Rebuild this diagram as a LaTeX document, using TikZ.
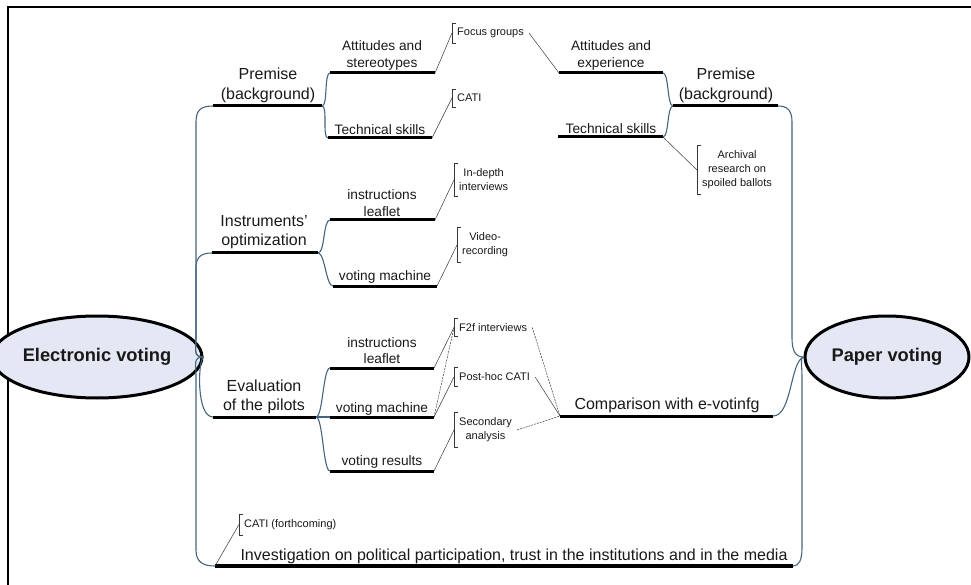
\documentclass[tikz,border=0pt]{standalone}
\usepackage{fontspec}
\setmainfont{Liberation Sans}
\usetikzlibrary{shapes.geometric}
\definecolor{txtc}{RGB}{25,25,25}
\definecolor{connc}{RGB}{70,100,125}
\definecolor{annc}{RGB}{55,55,55}
\definecolor{ovalfill}{RGB}{228,232,244}
\newcommand\annbracket[1]{\draw[bracketln] ([xshift=4pt]#1.north west) -- (#1.north west) -- (#1.south west) -- ([xshift=4pt]#1.south west);}
\begin{document}
\begin{tikzpicture}[x=1pt,y=-1pt,
  lblmain/.style={font=\fontsize{16}{19.3}\selectfont, align=center, inner sep=0pt, text=txtc},
  lblsub/.style={font=\fontsize{13.7}{16.7}\selectfont, align=center, inner sep=0pt, text=txtc},
  lblann/.style={font=\fontsize{11}{14}\selectfont, align=center, inner xsep=5pt, inner ysep=5pt, anchor=west, text=txtc},
  uln/.style={line width=3pt, draw=black},
  conn/.style={draw=connc, line width=1.1pt},
  annln/.style={draw=annc, line width=0.5pt},
  annlndash/.style={draw=annc, line width=0.5pt, dash pattern=on 2pt off 1pt},
  bracketln/.style={draw=annc, line width=0.6pt},
  ovalnode/.style={ellipse, draw=black, line width=3pt, fill=ovalfill, inner sep=0pt, font=\fontsize{18.3}{22}\selectfont\bfseries, text=txtc}]
\useasboundingbox (0,0) rectangle (971,585);
% frame
\draw[line width=2.5pt] (8,585) -- (8,7) -- (971,7);

% ellipses
\node[ovalnode, minimum width=170pt, minimum height=82pt] (ev) at (97,357) {Electronic voting};
\node[ovalnode, minimum width=164pt, minimum height=82pt] (pv) at (887,357) {Paper voting};

% underline coordinates
\coordinate (lpremL) at (213,106); \coordinate (lpremR) at (322,106);
\coordinate (linstL) at (212,253); \coordinate (linstR) at (318,253);
\coordinate (levalL) at (213,417); \coordinate (levalR) at (316,417);
\coordinate (linvL) at (215,566);  \coordinate (linvR) at (793,566);
\coordinate (rpremL) at (673,106); \coordinate (rpremR) at (778,106);
\coordinate (rcmpL) at (560,416);  \coordinate (rcmpR) at (773,416);
\coordinate (a1L) at (330,73);  \coordinate (a1R) at (435,73);
\coordinate (ts1L) at (328,138); \coordinate (ts1R) at (432,138);
\coordinate (il1L) at (330,220); \coordinate (il1R) at (435,220);
\coordinate (vm1L) at (333,286); \coordinate (vm1R) at (437,286);
\coordinate (il2L) at (330,368); \coordinate (il2R) at (434,368);
\coordinate (vm2L) at (330,417); \coordinate (vm2R) at (434,417);
\coordinate (vr2L) at (330,471); \coordinate (vr2R) at (434,471);
\coordinate (aeL) at (559,73);  \coordinate (aeR) at (663,73);
\coordinate (ts2L) at (558,137); \coordinate (ts2R) at (663,137);

% main labels
\node[lblmain] (lprem) at (268,85.5) {Premise\\(background)};
\node[lblmain] (linst) at (264,232) {Instruments'\\optimization};
\node[lblmain] (leval) at (264,397) {Evaluation\\of the pilots};
\node[lblmain] (linv) at (514,556.5) {Investigation on political participation, trust in the institutions and in the media};
\node[lblmain] (rprem) at (726,85.5) {Premise\\(background)};
\node[lblmain] (rcmp) at (667,405.5) {Comparison with e-votinfg};

% sub labels
\node[lblsub] (a1) at (382,55.5) {Attitudes and\\stereotypes};
\node[lblsub] (ts1) at (380,129.5) {Technical skills};
\node[lblsub] (il1) at (382,203) {instructions\\leaflet};
\node[lblsub] (vm1) at (385,276.5) {voting machine};
\node[lblsub] (il2) at (382,350.5) {instructions\\leaflet};
\node[lblsub] (vm2) at (382,408.5) {voting machine};
\node[lblsub] (vr2) at (382,461.5) {voting results};
\node[lblsub] (ae) at (611,55.5) {Attitudes and\\experience};
\node[lblsub] (ts2) at (611,128.5) {Technical skills};

% underlines
\foreach \a/\b in {lpremL/lpremR, linstL/linstR, levalL/levalR, rpremL/rpremR, rcmpL/rcmpR,
  a1L/a1R, ts1L/ts1R, il1L/il1R, vm1L/vm1R, il2L/il2R, vm2L/vm2R, vr2L/vr2R, aeL/aeR, ts2L/ts2R}
  {\draw[uln] (\a) -- (\b);}
\draw[uln, line width=3.5pt] (linvL) -- (linvR);

% annotation nodes
\node[lblann] (fg) at (452,33) {Focus groups};
\node[lblann] (cati) at (452,98) {CATI};
\node[lblann] (idi) at (454,180) {In-depth\\interviews};
\node[lblann] (vid) at (457,245) {Video-\\recording};
\node[lblann] (f2f) at (454,327.5) {F2f interviews};
\node[lblann] (ph) at (454,377) {Post-hoc CATI};
\node[lblann] (sec) at (454,430) {Secondary\\analysis};
\node[lblann] (arch) at (697,170) {Archival\\research on\\spoiled ballots};
\node[lblann] (cf) at (239,524.5) {CATI (forthcoming)};
\foreach \n in {fg,cati,idi,vid,f2f,ph,sec,arch,cf} {\annbracket{\n}}

% trunk connectors (left)
\draw[conn] (ev.east) .. controls (193,357) and (196,350) .. (196,338) -- (196,122) .. controls (196,110) and (201,106) .. (lpremL);
\draw[conn] (ev.east) .. controls (193,357) and (196,350) .. (196,338) -- (196,268) .. controls (196,257) and (201,253) .. (linstL);
\draw[conn] (ev.east) .. controls (198,360) and (196,417) .. (levalL);
\draw[conn] (ev.east) .. controls (193,357) and (196,364) .. (196,376) -- (196,550) .. controls (196,562) and (203,566) .. (linvL);
% trunk connectors (right)
\draw[conn] (pv.west) .. controls (795,357) and (792,350) .. (792,338) -- (792,122) .. controls (792,110) and (787,106) .. (rpremR);
\draw[conn] (pv.west) .. controls (790,362) and (792,416) .. (rcmpR);
\draw[conn] (pv.west) .. controls (800,357) and (802,364) .. (802,378) -- (802,548) .. controls (802,560) and (799,566) .. (linvR);

% second level connectors
\draw[conn] (lpremR) .. controls +(6,0) and +(-6,0) .. (a1L);
\draw[conn] (lpremR) .. controls +(6,0) and +(-6,0) .. (ts1L);
\draw[conn] (linstR) .. controls +(7,0) and +(-7,0) .. (il1L);
\draw[conn] (linstR) .. controls +(7,0) and +(-7,0) .. (vm1L);
\draw[conn] (levalR) .. controls +(7,0) and +(-7,0) .. (il2L);
\draw[conn] (levalR) -- (vm2L);
\draw[conn] (levalR) .. controls +(7,0) and +(-7,0) .. (vr2L);
\draw[conn] (rpremL) .. controls +(-6,0) and +(6,0) .. (aeR);
\draw[conn] (rpremL) .. controls +(-6,0) and +(6,0) .. (ts2R);

% annotation connectors
\draw[annln] (a1R) -- (fg.west);
\draw[annln] (fg.east) -- (aeL);
\draw[annln] (ts1R) -- (cati.west);
\draw[annln] (il1R) -- (idi.west);
\draw[annln] (vm1R) -- (vid.west);
\draw[annln] (il2R) -- (f2f.west);
\draw[annlndash] (vm2R) -- (f2f.west);
\draw[annln] (vm2R) -- (ph.west);
\draw[annln] (vr2R) -- (sec.west);
\draw[annlndash] (f2f.east) -- (rcmpL);
\draw[annln] (ph.east) -- (rcmpL);
\draw[annlndash] (sec.east) -- (rcmpL);
\draw[annln] (ts2R) -- (arch.west);
\draw[annln] (linvL) -- (cf.west);
\end{tikzpicture}
\end{document}
